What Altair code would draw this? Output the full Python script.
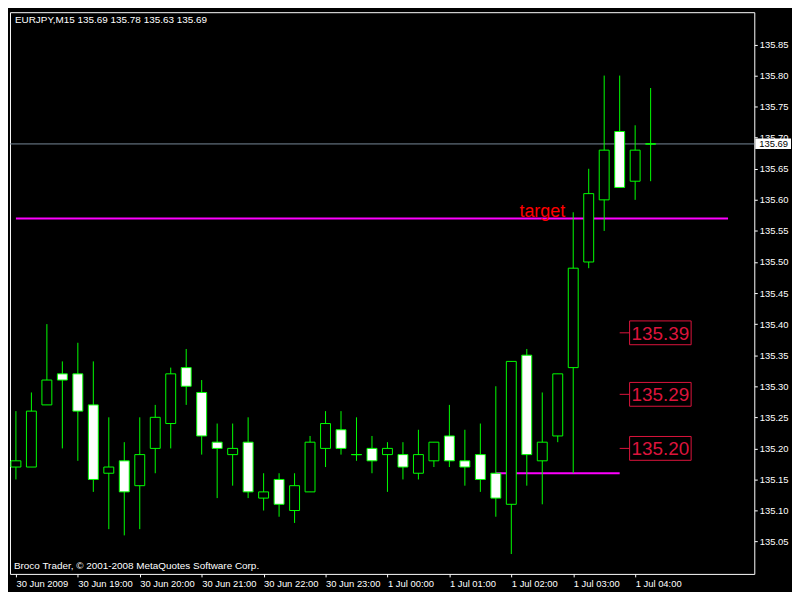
import json
import altair as alt
import pandas as pd

# ---------------- data ----------------
symbol = "EURJPY,M15"
copyright_text = "Broco Trader, © 2001-2008 MetaQuotes Software Corp."

# 15-minute candles, 30 Jun 2009 18:00 ... 1 Jul 2009 04:15
open_ = [135.17, 135.17, 135.27, 135.32, 135.32, 135.27, 135.16, 135.18, 135.14, 135.20,
         135.24, 135.33, 135.29, 135.21, 135.19, 135.21, 135.12, 135.15, 135.10, 135.13,
         135.20, 135.23, 135.19, 135.20, 135.19, 135.19, 135.16, 135.18, 135.22, 135.18,
         135.19, 135.16, 135.11, 135.35, 135.18, 135.22, 135.33, 135.50, 135.60, 135.71,
         135.63, 135.69]
high = [135.26, 135.29, 135.40, 135.34, 135.37, 135.34, 135.25, 135.21, 135.25, 135.27,
        135.33, 135.36, 135.31, 135.24, 135.24, 135.25, 135.16, 135.16, 135.16, 135.22,
        135.26, 135.26, 135.25, 135.22, 135.21, 135.21, 135.23, 135.21, 135.27, 135.23,
        135.24, 135.30, 135.34, 135.36, 135.29, 135.32, 135.58, 135.65, 135.80, 135.80,
        135.72, 135.78]
low = [135.15, 135.17, 135.27, 135.20, 135.18, 135.13, 135.07, 135.06, 135.07, 135.16,
       135.20, 135.27, 135.19, 135.12, 135.14, 135.12, 135.10, 135.09, 135.08, 135.13,
       135.17, 135.19, 135.18, 135.16, 135.13, 135.15, 135.15, 135.17, 135.17, 135.14,
       135.13, 135.09, 135.03, 135.14, 135.11, 135.21, 135.16, 135.49, 135.55, 135.62,
       135.60, 135.63]
close = [135.18, 135.26, 135.31, 135.31, 135.26, 135.15, 135.17, 135.13, 135.19, 135.25,
         135.32, 135.30, 135.22, 135.20, 135.20, 135.13, 135.13, 135.11, 135.14, 135.21,
         135.24, 135.20, 135.19, 135.18, 135.20, 135.17, 135.19, 135.21, 135.18, 135.17,
         135.15, 135.12, 135.34, 135.19, 135.21, 135.32, 135.49, 135.61, 135.68, 135.62,
         135.68, 135.69]

time_labels = ["30 Jun 2009", "30 Jun 19:00", "30 Jun 20:00", "30 Jun 21:00",
               "30 Jun 22:00", "30 Jun 23:00", "1 Jul 00:00", "1 Jul 01:00",
               "1 Jul 02:00", "1 Jul 03:00", "1 Jul 04:00"]
bars_per_label = 4
price_ticks = [135.05, 135.10, 135.15, 135.20, 135.25, 135.30, 135.35, 135.40, 135.45,
               135.50, 135.55, 135.60, 135.65, 135.70, 135.75, 135.80, 135.85]

target_price = 135.57
target_from_bar, target_to_bar = 0, 46
target_label = "target"
target_label_bar = 34

support_price = 135.16
support_from_bar, support_to_bar = 31, 39

price_label_bar = 39
price_label_values = [135.386, 135.287, 135.200]

x_domain = [-0.0625, 47.375]
y_domain = [134.998, 135.902]

# ---------------- tables ----------------
candles = pd.DataFrame({"bar": list(range(len(open_))), "open": open_, "high": high,
                        "low": low, "close": close})
dojis = candles[candles["open"] == candles["close"]]
bid = close[-1]
header = f"{symbol}  {open_[-1]:.2f} {high[-1]:.2f} {low[-1]:.2f} {close[-1]:.2f}"

W, H = 750, 566
FONT = "Liberation Sans"
GREEN = "#00FF00"
MAGENTA = "#FF00FF"
CRIMSON = "#DC143C"

xs = alt.Scale(domain=x_domain, nice=False, zero=False)
ys = alt.Scale(domain=y_domain, nice=False, zero=False)
x_axis = alt.Axis(values=list(range(0, len(time_labels) * bars_per_label, bars_per_label)),
                  labelExpr=json.dumps(time_labels) + f"[round(datum.value/{bars_per_label})]",
                  orient="bottom", labelAlign="left", labelBaseline="top", labelColor="white",
                  labelFont=FONT, labelFontSize=9.5, labelPadding=2, tickColor="white",
                  tickSize=3, domain=False, grid=False, labelOverlap=False, labelFlush=False,
                  labelBound=False, title=None)
y_axis = alt.Axis(values=price_ticks, format=".2f", orient="right", labelColor="white",
                  labelFont=FONT, labelFontSize=9.5, labelPadding=2, tickColor="white",
                  tickSize=3, domain=False, grid=False, labelOverlap=False, title=None)


def X(f):
    return alt.X(f, scale=xs, axis=x_axis, title=None)


def Y(f):
    return alt.Y(f, scale=ys, axis=y_axis, title=None)


wicks = alt.Chart(candles).mark_rule(color=GREEN, strokeWidth=1).encode(
    x=X("bar:Q"), y=Y("low:Q"), y2="high:Q")

bodies = alt.Chart(candles).mark_bar(size=10, stroke=GREEN, strokeWidth=1).encode(
    x=X("bar:Q"), y=Y("open:Q"), y2="close:Q",
    fill=alt.condition(alt.datum.close < alt.datum.open, alt.value("white"), alt.value("black")))

doji_ticks = alt.Chart(dojis).mark_tick(color=GREEN, orient="horizontal", size=11,
                                         thickness=1).encode(x=X("bar:Q"), y=Y("open:Q"))

bid_df = pd.DataFrame({"price": [bid]})
bid_line = alt.Chart(bid_df).mark_rule(color="#778899", strokeWidth=1).encode(y=Y("price:Q"))
bid_box = alt.Chart(bid_df).mark_rect(color="white", yOffset=-5.5, y2Offset=5).encode(
    x=alt.value(W + 1), x2=alt.value(W + 37), y=Y("price:Q"), y2="price:Q")
bid_text = alt.Chart(bid_df).mark_text(align="left", baseline="middle", font=FONT,
                                        fontSize=9.5, color="black").encode(
    x=alt.value(W + 5), y=Y("price:Q"), text=alt.Text("price:Q", format=".2f"))

target_df = pd.DataFrame({"a": [target_from_bar], "b": [target_to_bar], "price": [target_price],
                          "lab": [target_label], "lb": [target_label_bar]})
target_line = alt.Chart(target_df).mark_rule(color=MAGENTA, strokeWidth=2).encode(
    x=X("a:Q"), x2="b:Q", y=Y("price:Q"))
target_text = alt.Chart(target_df).mark_text(color="red", font=FONT, fontSize=18,
                                              align="center", baseline="alphabetic",
                                              dy=-2).encode(
    x=X("lb:Q"), y=Y("price:Q"), text="lab:N")

support_df = pd.DataFrame({"a": [support_from_bar], "b": [support_to_bar],
                           "price": [support_price]})
support_line = alt.Chart(support_df).mark_rule(color=MAGENTA, strokeWidth=2).encode(
    x=X("a:Q"), x2="b:Q", y=Y("price:Q"))

pl_df = pd.DataFrame({"bar": [price_label_bar] * len(price_label_values),
                      "price": price_label_values})
pl_rule = alt.Chart(pl_df).mark_rule(color=CRIMSON, strokeWidth=1, x2Offset=10).encode(
    x=X("bar:Q"), x2="bar:Q", y=Y("price:Q"))
pl_box = alt.Chart(pl_df).mark_rect(fill="black", fillOpacity=0, stroke=CRIMSON,
                                    strokeWidth=1, xOffset=10, x2Offset=72, yOffset=-12,
                                    y2Offset=12).encode(
    x=X("bar:Q"), x2="bar:Q", y=Y("price:Q"), y2="price:Q")
pl_text = alt.Chart(pl_df).mark_text(color=CRIMSON, font=FONT,
                                     fontSize=19, align="left", baseline="middle",
                                     dx=12, dy=1).encode(
    x=X("bar:Q"), y=Y("price:Q"), text=alt.Text("price:Q", format=".2f"))

header_text = alt.Chart(pd.DataFrame({"t": [header]})).mark_text(
    color="white", font=FONT, fontSize=10, align="left", baseline="alphabetic").encode(
    x=alt.value(5), y=alt.value(11), text="t:N")
copy_text = alt.Chart(pd.DataFrame({"t": [copyright_text]})).mark_text(
    color="white", font=FONT, fontSize=10, align="left", baseline="alphabetic").encode(
    x=alt.value(4), y=alt.value(H - 5), text="t:N")

chart = alt.layer(
    bid_line, target_line, support_line, wicks, bodies, doji_ticks, target_text,
    pl_rule, pl_box, pl_text, bid_box, bid_text, header_text, copy_text
).properties(
    width=W, height=H,
    autosize=alt.AutoSizeParams(type="none"),
    padding={"left": 2, "top": 2, "right": 38, "bottom": 16},
).configure(background="black").configure_view(stroke="white", strokeWidth=1)

chart.save("out.html", embed_options={"renderer": "svg", "actions": False})
